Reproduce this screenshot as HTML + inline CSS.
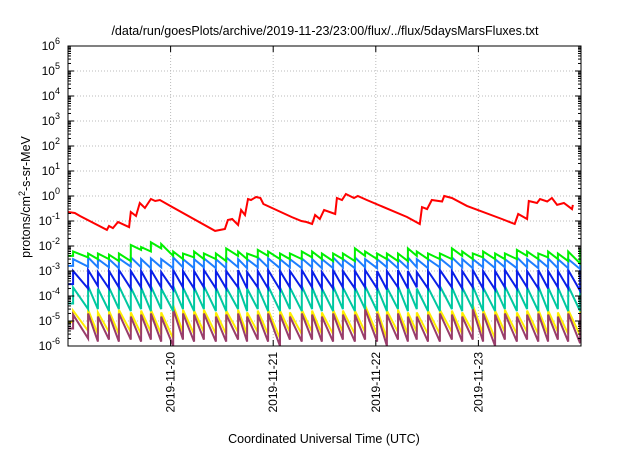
<!DOCTYPE html>
<html><head><meta charset="utf-8"><style>
body{margin:0;background:#fff;}
svg text{font-family:"Liberation Sans",sans-serif;fill:#000;}
</style></head><body>
<svg id="chart" width="640" height="448" xmlns="http://www.w3.org/2000/svg">
<rect width="640" height="448" fill="#fff"/>
<text x="325" y="35" font-size="12.5" text-anchor="middle">/data/run/goesPlots/archive/2019-11-23/23:00/flux/../flux/5daysMarsFluxes.txt</text>
<text transform="translate(30,197) rotate(-90)" font-size="12.5" text-anchor="middle">protons/cm<tspan font-size="9" dy="-5">2</tspan><tspan dy="5">-s-sr-MeV</tspan></text>
<text x="324" y="443" font-size="12.5" text-anchor="middle">Coordinated Universal Time (UTC)</text>
<g id="grid"></g><g id="series"></g><g id="axes"></g>
</svg>
<script>
const dayLabels=["2019-11-20","2019-11-21","2019-11-22","2019-11-23"];
const dayHours=[24,48,72,96];
const yExps=[-6,-5,-4,-3,-2,-1,0,1,2,3,4,5,6];
const jumpHours=[1.2,4.7,7.0,9.6,11.9,14.7,17.1,19.4,21.8,24.6,26.9,29.5,31.8,34.6,37.0,39.8,41.9,44.4,46.8,49.6,51.9,54.7,57.1,59.4,62.0,64.3,67.1,69.5,72.3,74.6,77.2,79.5,81.6,84.2,87.0,89.8,92.2,94.7,97.1,99.9,102.2,105.0,107.4,110.0,112.3,114.6,117.0,119.8];
const greenPeaks=[6e-3,5e-3,5e-3,4.5e-3,5e-3,1.1e-2,9e-3,1.4e-2,1.2e-2,6e-3,5e-3,6e-3,5e-3,5e-3,8e-3,6e-3,5e-3,7e-3,6e-3,5e-3,5e-3,6e-3,6e-3,5e-3,5e-3,5e-3,8e-3,6e-3,5e-3,5e-3,5e-3,8e-3,6e-3,5e-3,5e-3,8e-3,6e-3,5e-3,6e-3,5e-3,5e-3,7e-3,6e-3,5e-3,6e-3,5e-3,6e-3,7e-3];
const greenTroughs=[4e-3,3.5e-3,3e-3,3e-3,2.5e-3,2.5e-3,7e-3,6e-3,8e-3,4e-3,3e-3,3.5e-3,3e-3,3e-3,2.5e-3,4e-3,3e-3,3.5e-3,4e-3,3e-3,3e-3,3e-3,3.5e-3,3e-3,2.5e-3,3e-3,2.5e-3,4e-3,3e-3,3e-3,2.5e-3,2.5e-3,4e-3,3e-3,3e-3,3e-3,4e-3,3e-3,3.5e-3,3e-3,3e-3,3e-3,4e-3,3e-3,3.5e-3,3e-3,2.5e-3,2e-3];
const lblPeaks=[3e-3,3.5e-3,3e-3,3e-3,3.2e-3,3.5e-3,3e-3,3.2e-3,3e-3,3.5e-3,3e-3,3e-3,3.2e-3,3e-3,3.5e-3,3e-3,3e-3,3.5e-3,3.2e-3,3e-3,3e-3,3.2e-3,3e-3,3e-3,3.5e-3,3e-3,3.5e-3,3e-3,3e-3,3.2e-3,3e-3,3.5e-3,3e-3,3e-3,3.2e-3,3.5e-3,3e-3,3e-3,3.2e-3,3e-3,3e-3,3.5e-3,3e-3,3e-3,3.2e-3,3e-3,3e-3,3.5e-3];
const lblTroughs=[1.6e-3,1.5e-3,1.4e-3,1.4e-3,1.3e-3,1.5e-3,1.4e-3,1.3e-3,1.4e-3,1.3e-3,1.4e-3,1.3e-3,1.4e-3,1.3e-3,1.3e-3,1.4e-3,1.3e-3,1.4e-3,1.4e-3,1.3e-3,1.4e-3,1.3e-3,1.4e-3,1.3e-3,1.3e-3,1.4e-3,1.3e-3,1.4e-3,1.3e-3,1.4e-3,1.3e-3,1.3e-3,1.4e-3,1.3e-3,1.4e-3,1.3e-3,1.4e-3,1.3e-3,1.4e-3,1.3e-3,1.4e-3,1.3e-3,1.4e-3,1.3e-3,1.4e-3,1.3e-3,1.3e-3,1.2e-3];
const bluePeaks=[1e-3,1.1e-3,9e-4,1e-3,1.1e-3,1e-3,1e-3,1.1e-3,9e-4,1.1e-3,1e-3,1e-3,1.1e-3,1e-3,1e-3,1.1e-3,9e-4,1e-3,1.1e-3,1e-3,1e-3,1.1e-3,1e-3,9e-4,1.1e-3,1e-3,1e-3,1.1e-3,1e-3,1e-3,1.1e-3,1e-3,9e-4,1e-3,1.1e-3,1e-3,1e-3,1.1e-3,1e-3,1e-3,1.1e-3,1e-3,1e-3,1.1e-3,1e-3,1e-3,1.1e-3,1e-3];
const blueTroughs=[3e-4,2e-4,2.5e-4,2e-4,2.2e-4,2e-4,2.2e-4,2e-4,2.2e-4,1.8e-4,2.2e-4,2e-4,2.2e-4,2e-4,2e-4,2.2e-4,2e-4,2.2e-4,2e-4,1.8e-4,2.2e-4,2e-4,2.2e-4,2e-4,2e-4,2.2e-4,2e-4,2.2e-4,2e-4,1.8e-4,2.2e-4,2e-4,2.2e-4,2e-4,2e-4,2.2e-4,2e-4,2.2e-4,2e-4,1.8e-4,2.2e-4,2e-4,2.2e-4,2e-4,2e-4,2.2e-4,2e-4,1.6e-4];
const tealPeaks=[2.2e-4,2.5e-4,2e-4,2.2e-4,2.5e-4,2.2e-4,2.2e-4,2.5e-4,2e-4,2.5e-4,2.2e-4,2.2e-4,2.5e-4,2.2e-4,2.2e-4,2.5e-4,2e-4,2.2e-4,2.5e-4,2.2e-4,2.2e-4,2.5e-4,2.2e-4,2e-4,2.5e-4,2.2e-4,2.2e-4,2.5e-4,2.2e-4,2.2e-4,2.5e-4,2.2e-4,2e-4,2.2e-4,2.5e-4,2.2e-4,2.2e-4,2.5e-4,2.2e-4,2.2e-4,2.5e-4,2.2e-4,2.2e-4,2.5e-4,2.2e-4,2.2e-4,2.5e-4,2.2e-4];
const tealTroughs=[5e-5,3e-5,3e-5,2.5e-5,3e-5,2.5e-5,3e-5,2.5e-5,3e-5,2.5e-5,3e-5,2.5e-5,3e-5,2.5e-5,2.5e-5,3e-5,2.5e-5,3e-5,2.5e-5,2.5e-5,3e-5,2.5e-5,3e-5,2.5e-5,2.5e-5,3e-5,2.5e-5,3e-5,2.5e-5,2.5e-5,3e-5,2.5e-5,3e-5,2.5e-5,2.5e-5,3e-5,2.5e-5,3e-5,2.5e-5,2.5e-5,3e-5,2.5e-5,3e-5,2.5e-5,2.5e-5,3e-5,2.5e-5,2.5e-5];
const yellowPeaks=[2.6e-5,2.8e-5,2.2e-5,2.6e-5,2.8e-5,2.2e-5,2.6e-5,2.8e-5,2.2e-5,4.2e-5,2.8e-5,2.6e-5,2.8e-5,2.2e-5,2.6e-5,2.8e-5,2.2e-5,2.6e-5,2.8e-5,2.6e-5,2.2e-5,2.8e-5,2.6e-5,2.2e-5,2.8e-5,2.6e-5,2.6e-5,4.2e-5,2.8e-5,2.6e-5,2.8e-5,2.2e-5,2.2e-5,2.6e-5,2.8e-5,2.6e-5,2.2e-5,4.2e-5,2.8e-5,2.6e-5,2.8e-5,2.2e-5,2.6e-5,2.8e-5,2.6e-5,2.2e-5,2.8e-5,2.6e-5];
const yellowTroughs=[9e-6,4e-6,3e-6,3.6e-6,3e-6,3.6e-6,3e-6,3.6e-6,3e-6,2e-6,3.6e-6,3e-6,3.6e-6,3e-6,3e-6,3.6e-6,3e-6,3.6e-6,3e-6,2e-6,3.6e-6,3e-6,3.6e-6,3e-6,3e-6,3.6e-6,3e-6,3.6e-6,3e-6,2e-6,3.6e-6,3e-6,3.6e-6,3e-6,3e-6,3.6e-6,3e-6,3.6e-6,3e-6,2e-6,3.6e-6,3e-6,3.6e-6,3e-6,3e-6,3.6e-6,3e-6,2.6e-6];
const purplePeaks=[1.8e-5,2e-5,1.5e-5,1.8e-5,2e-5,1.5e-5,1.8e-5,2e-5,1.5e-5,3e-5,2e-5,1.8e-5,2e-5,1.5e-5,1.8e-5,2e-5,1.5e-5,1.8e-5,2e-5,1.8e-5,1.5e-5,2e-5,1.8e-5,1.5e-5,2e-5,1.8e-5,1.8e-5,3e-5,2e-5,1.8e-5,2e-5,1.5e-5,1.5e-5,1.8e-5,2e-5,1.8e-5,1.5e-5,3e-5,2e-5,1.8e-5,2e-5,1.5e-5,1.8e-5,2e-5,1.8e-5,1.5e-5,2e-5,1.8e-5];
const purpleTroughs=[5e-6,2e-6,1.5e-6,1.8e-6,1.5e-6,1.8e-6,1.5e-6,1.8e-6,1.5e-6,1e-6,1.8e-6,1.5e-6,1.8e-6,1.5e-6,1.5e-6,1.8e-6,1.5e-6,1.8e-6,1.5e-6,1e-6,1.8e-6,1.5e-6,1.8e-6,1.5e-6,1.5e-6,1.8e-6,1.5e-6,1.8e-6,1.5e-6,1e-6,1.8e-6,1.5e-6,1.8e-6,1.5e-6,1.5e-6,1.8e-6,1.5e-6,1.8e-6,1.5e-6,1e-6,1.8e-6,1.5e-6,1.8e-6,1.5e-6,1.5e-6,1.8e-6,1.5e-6,1.3e-6];
const redHours=[0,1.6,2.8,9.1,9.6,10.5,11.7,14.3,14.7,15.9,16.8,18.0,19.4,20.4,21.5,23.9,34.4,36.7,37.4,38.4,39.8,40.5,41.4,42.1,42.8,44.0,45.0,45.7,52.3,54.6,55.8,57.1,57.8,58.9,59.9,62.5,62.9,64.1,65.0,66.9,67.8,69.9,79.3,82.3,82.8,84.0,85.1,87.5,88.0,89.8,93.3,101.5,104.5,105.3,107.4,107.8,109.7,110.4,112.1,113.2,114.4,116.0,117.9,118.1];
const redValues=[0.229,0.209,0.158,0.044,0.063,0.052,0.091,0.057,0.229,0.158,0.525,0.331,0.76,0.63,0.69,0.4,0.04,0.048,0.11,0.12,0.069,0.275,0.174,0.76,0.69,0.91,0.83,0.48,0.145,0.1,0.091,0.076,0.174,0.12,0.275,0.19,0.83,0.69,1.2,0.83,1.0,0.69,0.145,0.076,0.36,0.3,0.69,0.6,1.0,0.83,0.4,0.12,0.076,0.19,0.12,0.63,0.525,0.76,0.6,0.83,0.44,0.525,0.3,0.44];

const X0=68,X1=581,Y0=346,Y1=46;
const xs=h=>X0+(h/120)*(X1-X0);
const ys=v=>Y0-(Math.log10(v)+6)/12*(Y0-Y1);
const NS="http://www.w3.org/2000/svg";
function mk(tag,attrs,parent){const e=document.createElementNS(NS,tag);for(const k in attrs)e.setAttribute(k,attrs[k]);parent.appendChild(e);return e;}
const grid=document.getElementById('grid'),axes=document.getElementById('axes'),ser=document.getElementById('series');
yExps.forEach(function(n){
  const y=ys(Math.pow(10,n));
  if(n>-6&&n<6){const g=mk('line',{x1:X0,x2:X1,y1:y,y2:y,stroke:'#bbb','stroke-width':1,'stroke-dasharray':'1,2'},grid);
  
  }
  mk('line',{x1:X0,x2:X0+6,y1:y,y2:y,stroke:'#000'},axes);
  mk('line',{x1:X1,x2:X1-6,y1:y,y2:y,stroke:'#000'},axes);
  if(n<6){for(let m=2;m<10;m++){const ym=ys(m*Math.pow(10,n));mk('line',{x1:X0,x2:X0+3,y1:ym,y2:ym,stroke:'#000'},axes);mk('line',{x1:X1,x2:X1-3,y1:ym,y2:ym,stroke:'#000'},axes);}}
  const t=mk('text',{x:60,y:y+4,'font-size':12,'text-anchor':'end'},axes);
  
  
  t.innerHTML='10<tspan font-size="9" dy="-6">'+n+'</tspan>';
});
dayHours.forEach(function(h,i){
  const x=xs(h);
  const g=mk('line',{x1:x,x2:x,y1:Y1,y2:Y0,stroke:'#bbb','stroke-dasharray':'1,2'},grid);
  
  
  mk('line',{x1:x,x2:x,y1:Y0,y2:Y0-6,stroke:'#000'},axes);
  mk('line',{x1:x,x2:x,y1:Y1,y2:Y1+6,stroke:'#000'},axes);
  const t=mk('text',{transform:'translate('+(x+4)+',352) rotate(-90)','font-size':12,'text-anchor':'end'},axes);
  
  
  t.textContent=dayLabels[i];
});
const fr=mk('rect',{x:X0,y:Y1,width:X1-X0,height:Y0-Y1,fill:'none',stroke:'#000','stroke-width':1},axes);


function saw(peaks,troughs,color,name){
  let pts=[[xs(0),ys(troughs[0])]];
  for(let i=0;i<jumpHours.length;i++){
    pts.push([xs(jumpHours[i]),ys(troughs[i])]);
    pts.push([xs(jumpHours[i]),ys(peaks[i])]);
  }
  pts.push([xs(120),ys(peaks[peaks.length-1])]);
  const p=mk('polyline',{points:pts.map(q=>q[0].toFixed(1)+','+q[1].toFixed(1)).join(' '),fill:'none',stroke:color,'stroke-width':2,'stroke-linejoin':'miter'},ser);
  
  
}
saw(yellowPeaks,yellowTroughs,'#ffee00','series-yellow');
saw(purplePeaks,purpleTroughs,'#993d6b','series-purple');
saw(tealPeaks,tealTroughs,'#00c8a0','series-teal');
saw(bluePeaks,blueTroughs,'#0a1ee8','series-blue');
saw(lblPeaks,lblTroughs,'#1e7fff','series-lightblue');
saw(greenPeaks,greenTroughs,'#00f000','series-green');
const rp=mk('polyline',{points:redHours.map((h,i)=>xs(h).toFixed(1)+','+ys(redValues[i]).toFixed(1)).join(' '),fill:'none',stroke:'#ff0000','stroke-width':2},ser);


</script>
</body></html>
